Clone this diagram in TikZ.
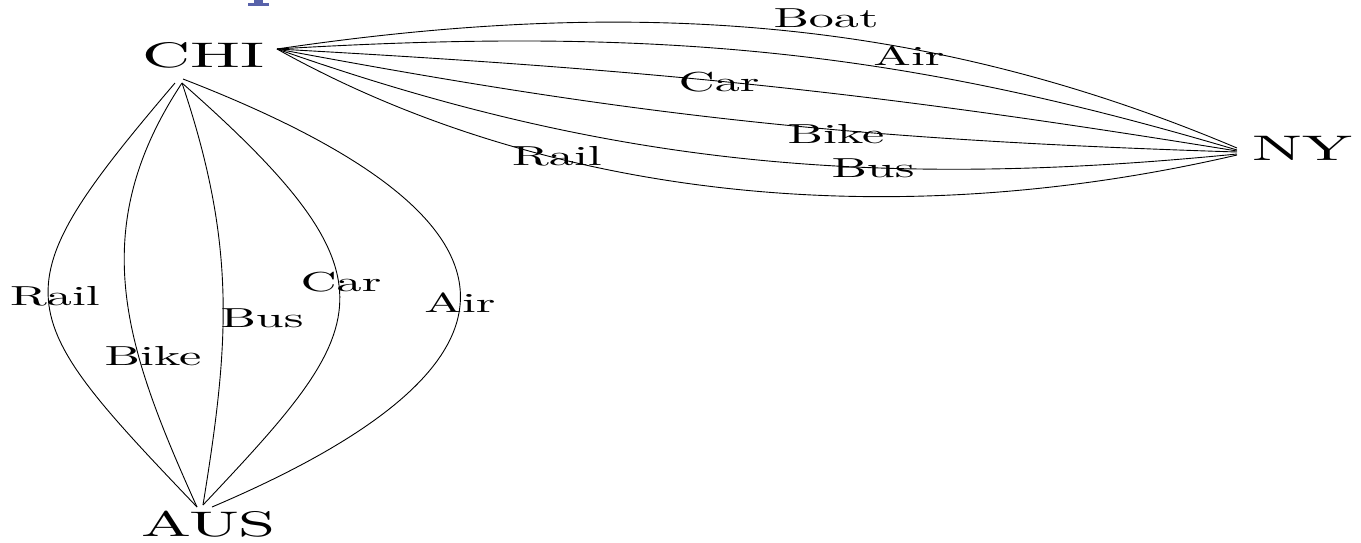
\documentclass[tikz,border=0pt]{standalone}
\usepackage{graphicx}
\usepackage{fontspec}
\newfontfamily\lmten{lmroman10-regular}[Extension=.otf]
\definecolor{titleblue}{RGB}{88,98,170}
\newcommand\bigtxt[1]{\scalebox{1.875}[1]{#1}}
\newcommand\smalltxt[1]{\scalebox{1.82}[1]{#1}}
\begin{document}
\begin{tikzpicture}[x=1pt,y=-1pt,
  big/.style={anchor=base, inner sep=0pt, font=\lmten\fontsize{35.5}{40}\selectfont},
  lbl/.style={anchor=base, inner sep=0pt, font=\lmten\fontsize{27.5}{30}\selectfont},
  edge/.style={line width=0.9pt}]
\useasboundingbox (0,0) rectangle (1361,542);
% cut-off title fragment
\fill[titleblue] (254,0) rectangle (263,3);
\fill[titleblue] (248,3) rectangle (269,6);
% city nodes
\node[big] (chi) at (203.5,67) {\bigtxt{CHI}};
\node[big] (ny) at (1302.5,160) {\bigtxt{NY}};
\node[big] (aus) at (208.5,536) {\bigtxt{AUS}};
% edge end points
\coordinate (chiE) at (277,49);
\coordinate (chiS) at (182,83);
\coordinate (chiSW) at (175,83);
\coordinate (chiSE) at (183,79);
\coordinate (nyA) at (1237,148);
\coordinate (nyB) at (1237,150);
\coordinate (nyC) at (1237,151);
\coordinate (nyD) at (1237,152);
\coordinate (nyE) at (1237,154);
\coordinate (nyF) at (1237,155);
\coordinate (ausA) at (197,507);
\coordinate (ausB) at (203,505);
\coordinate (ausC) at (212,507);
% CHI -- NY
\draw[edge] (chiE) .. controls (646.3,-5.8) and (936.7,21.2) .. (nyA);
\draw[edge] (chiE) .. controls (658.6,26.1) and (899.8,49.9) .. (nyB);
\draw[edge] (chiE) .. controls (658.4,70.0) and (870.2,91.6) .. (nyC);
\draw[edge] (chiE) .. controls (638.6,116.8) and (854.2,139.8) .. (nyD);
\draw[edge] (chiE) .. controls (596.9,161.4) and (860.1,191.4) .. (nyE);
\draw[edge] (chiE) .. controls (541.3,196.8) and (885.5,236.6) .. (nyF);
% CHI -- AUS
\draw[edge] (chiSW) .. controls (-4,293) and (9,310) .. (ausA);
\draw[edge] (chiS) .. controls (83.4,231.8) and (126.3,350.1) .. (ausA);
\draw[edge] (chiS) .. controls (237.1,246.6) and (229.2,343.5) .. (ausB);
\draw[edge] (chiS) .. controls (407.5,281.4) and (370.2,327.6) .. (ausB);
\draw[edge] (chiSE) .. controls (579,232.3) and (516.8,377.4) .. (ausC);
% labels CHI -- NY
\node[lbl] (boat1) at (826,27) {\smalltxt{Boat}};
\node[lbl] (air1) at (909,65) {\smalltxt{Air}};
\node[lbl] (car1) at (719,91) {\smalltxt{Car}};
\node[lbl] (bike1) at (836,143) {\smalltxt{Bike}};
\node[lbl] (bus1) at (873,177) {\smalltxt{Bus}};
\node[lbl] (rail1) at (557,165) {\smalltxt{Rail}};
% labels CHI -- AUS
\node[lbl] (rail2) at (55,305) {\smalltxt{Rail}};
\node[lbl] (bike2) at (153,365) {\smalltxt{Bike}};
\node[lbl] (bus2) at (262,327) {\smalltxt{Bus}};
\node[lbl] (car2) at (341,291) {\smalltxt{Car}};
\node[lbl] (air2) at (460,312) {\smalltxt{Air}};
\end{tikzpicture}
\end{document}
